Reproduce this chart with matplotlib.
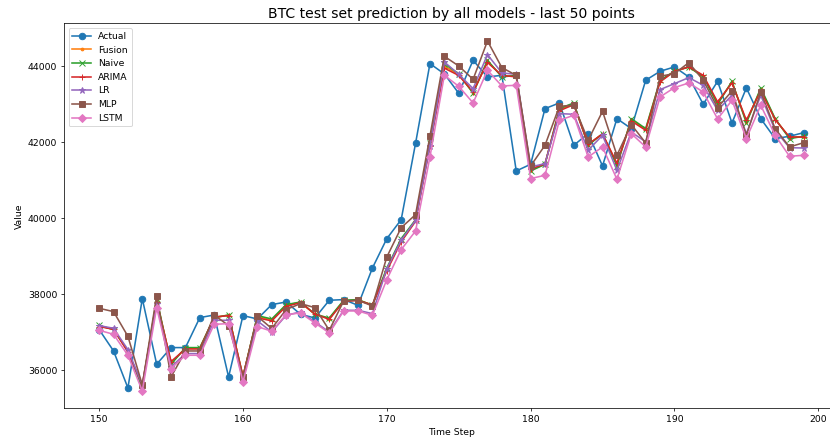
import numpy as np
import matplotlib.pyplot as plt

steps = list(range(150, 200))

actual = [37070, 36510, 35535, 37885, 36158, 36597, 36597, 37386, 37455, 35824,
          37439, 37350, 37728, 37797, 37473, 37376, 37842, 37860, 37710, 38691,
          39464, 39963, 41974, 44070, 43800, 43290, 44158, 43719, 43763, 41245,
          41421, 42886, 43035, 41921, 42228, 41377, 42623, 42360, 43632, 43868,
          43983, 43719, 43000, 43605, 42508, 43430, 42623, 42097, 42158, 42255]

naive = [37180, 37070, 36510, 35535, 37885, 36158, 36597, 36597, 37386, 37455,
         35824, 37439, 37350, 37728, 37797, 37473, 37376, 37842, 37860, 37710,
         38691, 39464, 39963, 41974, 44070, 43800, 43290, 44158, 43719, 43763,
         41245, 41421, 42886, 43035, 41921, 42228, 41377, 42623, 42360, 43632,
         43868, 43983, 43719, 43000, 43605, 42508, 43430, 42623, 42097, 42158]

arima = [37150, 37080, 36480, 35620, 37800, 36230, 36560, 36560, 37400, 37440,
         35850, 37380, 37300, 37680, 37780, 37480, 37340, 37810, 37840, 37720,
         38620, 39380, 39920, 41900, 43950, 43760, 43330, 44100, 43760, 43720,
         41300, 41430, 42830, 42990, 41950, 42220, 41450, 42560, 42316, 43588,
         43868, 43983, 43763, 43062, 43561, 42579, 43360, 42597, 42140, 42140]

fusion = [37170, 37075, 36500, 35570, 37850, 36190, 36580, 36580, 37390, 37450,
          35835, 37410, 37330, 37710, 37790, 37475, 37360, 37830, 37850, 37715,
          38660, 39420, 39940, 41940, 44010, 43780, 43310, 44130, 43740, 43740,
          41270, 41425, 42860, 43010, 41935, 42225, 41410, 42590, 42340, 43610,
          43868, 43983, 43740, 43030, 43585, 42540, 43395, 42610, 42120, 42150]

lr = [37176, 37105, 36544, 35614, 37754, 36087, 36439, 36439, 37316, 37316,
      35736, 37300, 37009, 37447, 37535, 37272, 37009, 37579, 37579, 37491,
      38675, 39420, 39946, 41900, 44114, 43789, 43412, 44307, 43824, 43789,
      41351, 41439, 42755, 42737, 41790, 42184, 41263, 42270, 42009, 43386,
      43544, 43702, 43500, 42842, 43237, 42228, 43237, 42316, 41858, 41849]

mlp = [37631, 37544, 36894, 35614, 37964, 35824, 36508, 36508, 37455, 37176,
       35824, 37420, 37100, 37597, 37754, 37649, 37052, 37823, 37842, 37692,
       38981, 39753, 40095, 42163, 44263, 44008, 43657, 44666, 43965, 43763,
       41377, 41921, 42947, 42974, 42053, 42816, 41658, 42465, 41982, 43737,
       43807, 44097, 43632, 42912, 43350, 42184, 43324, 42360, 41877, 41991]

lstm = [37052, 36947, 36395, 35456, 37649, 36044, 36395, 36395, 37210, 37228,
        35693, 37150, 37026, 37465, 37508, 37245, 36982, 37561, 37561, 37447,
        38386, 39175, 39665, 41614, 43763, 43474, 43035, 43895, 43482, 43500,
        41044, 41132, 42579, 42711, 41614, 41877, 41027, 42228, 41877, 43193,
        43439, 43561, 43324, 42614, 43105, 42097, 42974, 42184, 41632, 41658]

fig = plt.figure(figsize=(830 / 67, 443 / 67))
# the reference is cut off on the right, so the axes run past the edge
ax = fig.add_axes([0.077, 0.078, 0.934, 0.869])

ax.plot(steps, actual, marker="o", markersize=7, linewidth=1.7, label="Actual")
ax.plot(steps, fusion, marker=".", linewidth=1.7, label="Fusion")
ax.plot(steps, naive, marker="x", markersize=7, linewidth=1.7, label="Naive")
ax.plot(steps, arima, marker="+", markersize=7, linewidth=1.7, label="ARIMA")
ax.plot(steps, lr, marker="*", markersize=7, linewidth=1.7, label="LR")
ax.plot(steps, mlp, marker="s", markersize=7, linewidth=1.7, label="MLP")
ax.plot(steps, lstm, marker="D", markersize=6, linewidth=1.7, label="LSTM")

ax.set_title("BTC test set prediction by all models - last 50 points", fontsize=15)
ax.set_xlabel("Time Step")
ax.set_ylabel("Value")
ax.legend(loc="upper left")

plt.savefig("out.png", dpi=67)
